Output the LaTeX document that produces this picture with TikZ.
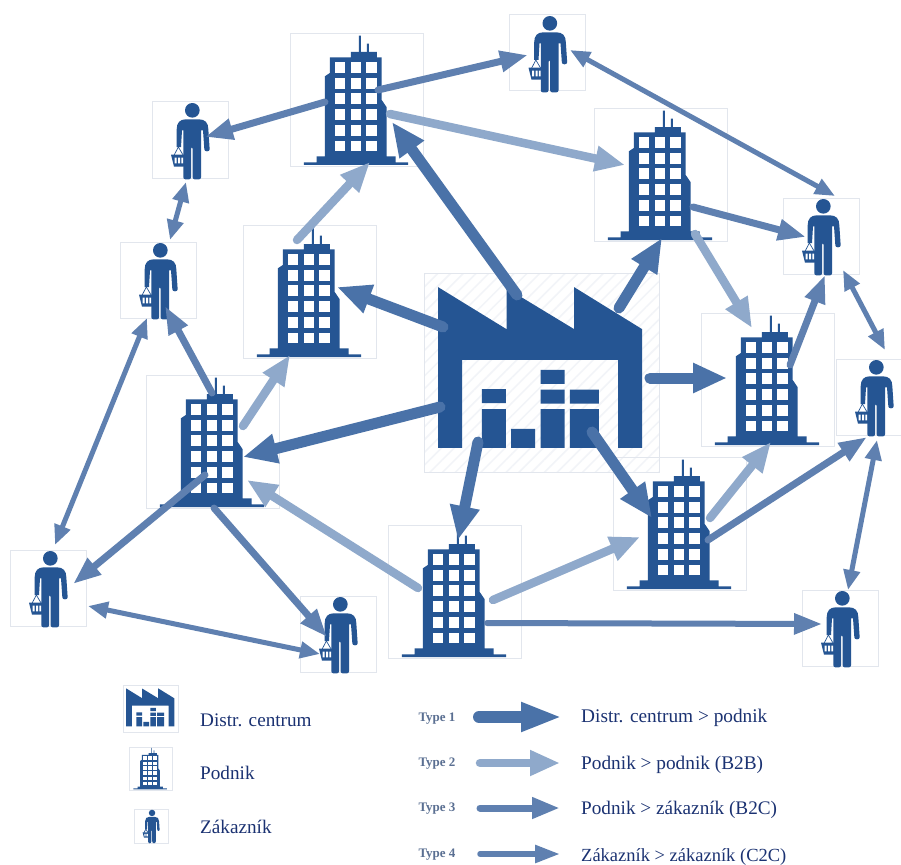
\documentclass[tikz,border=0pt]{standalone}
\usepackage{fontspec}
\setmainfont{Liberation Serif}
\usetikzlibrary{arrows.meta,calc,patterns.meta}
\definecolor{iconblue}{HTML}{255593}
\definecolor{boxline}{HTML}{E2E6ED}
\definecolor{hatchc}{HTML}{F2F4F8}
\definecolor{typeA}{HTML}{4A72A8}
\definecolor{typeB}{HTML}{8FA9CB}
\definecolor{typeC}{HTML}{5F80B0}
\definecolor{txtc}{HTML}{1B3272}
\definecolor{typetxt}{HTML}{5A6F92}
\tikzset{
  iconbox/.style={draw=boxline,line width=1pt,rectangle,inner sep=0pt,outer sep=0pt},
  bldgbox/.style={iconbox,minimum width=133pt,minimum height=133pt},
  persbox/.style={iconbox,minimum width=76pt,minimum height=76pt},
  t1/.style={draw=typeA,line width=11pt,line cap=round,-{Triangle[length=34pt,width=28pt]}},
  t2/.style={draw=typeB,line width=8.5pt,line cap=round,-{Triangle[length=30pt,width=24pt]}},
  t3/.style={draw=typeC,line width=7pt,line cap=round,-{Triangle[length=28pt,width=20pt]}},
  t4/.style={draw=typeC,line width=5pt,{Triangle[length=20pt,width=16pt]}-{Triangle[length=20pt,width=16pt]}},
  t4s/.style={draw=typeC,line width=5.5pt,line cap=round,-{Triangle[length=25pt,width=17pt]}},
  legtxt/.style={anchor=base west,text=txtc,font=\fontsize{19.2}{22}\selectfont,inner sep=0pt},
  typetxtst/.style={text=typetxt,font=\fontsize{13}{15}\selectfont\bfseries,inner sep=0pt},
  factory/.pic={
    \begin{scope}[scale=1/3,shift={(-395,-338)}]
      \fill[iconblue] (85,82)--(290,208)--(290,85)--(493,208)--(493,82)--(697,208)--(697,564)--(625,564)--(625,300)--(157,300)--(157,564)--(85,564)--cycle;
      \fill[iconblue] (216,388) rectangle (288,430) (216,448) rectangle (288,564)
        (304,507) rectangle (376,564) (392,330) rectangle (464,372)
        (392,389) rectangle (464,431) (392,448) rectangle (464,564)
        (480,389) rectangle (567,431) (480,448) rectangle (567,564);
    \end{scope}
  },
  bldg/.pic={
    \begin{scope}[scale=1/3,shift={(-231.5,-241)}]
      \fill[iconblue] (150,113)--(213,113)--(213,97)--(291,97)--(291,113)--(305,113)--(305,240)--(320,262)--(320,410)--(347,410)--(347,428)--(385,428)--(385,436)--(72,436)--(72,428)--(110,428)--(110,410)--(135,410)--(135,170)--(150,160)--cycle;
      \fill[iconblue] (237,48) rectangle (243,97) (261,72) rectangle (267,97);
      \foreach \wx in {165,212,259}
        \foreach \wy/\wh in {128/160,176/207,221/253,268/300,316/348,363/395}
          \fill[white] (\wx,\wy) rectangle (\wx+31,\wh);
    \end{scope}
  },
  pers/.pic={
    \begin{scope}[scale=1/3,shift={(-145,-144)}]
      \fill[iconblue] (152,55) circle (22);
      \fill[iconblue] (105,165)--(105,112) .. controls (105,92) and (115,82) .. (132,82)--(172,82) .. controls (190,82) and (200,92) .. (200,112)--(204,172) .. controls (204,180) and (188,180) .. (188,172)--(184,115)--(121,115)--(118,165)--cycle;
      \fill[iconblue,rounded corners=2pt] (125,100)--(178,100)--(178,262)--(153,262)--(153,165)--(148,165)--(148,262)--(125,262)--cycle;
      \draw[iconblue,line width=.7pt] (96,192)--(110,165)--(126,192);
      \fill[iconblue] (88,188)--(135,188)--(126,224)--(97,224)--cycle;
      \fill[white] (99,197) rectangle (105,214) (109,197) rectangle (115,214) (119,197) rectangle (124,214);
    \end{scope}
  },
}
\newcommand{\linkit}[5]{\draw[#1] ($(#2)+(#3)$) -- ($(#4)+(#5)$);}
\begin{document}
\begin{tikzpicture}[x=1pt,y=-1pt]
\useasboundingbox (0,0) rectangle (901,864);
\fill[white] (0,0) rectangle (901,864);
% boxes
\node[iconbox,minimum width=235pt,minimum height=199pt,pattern={Lines[angle=45,distance=9pt,line width=1.5pt]},pattern color=hatchc] (F) at (541.5,372.5) {};
\node[bldgbox] (B1) at (357,100) {};
\node[bldgbox] (B2) at (661,175) {};
\node[bldgbox] (B3) at (310,292) {};
\node[bldgbox] (B4) at (768,380) {};
\node[bldgbox] (B5) at (213,442) {};
\node[bldgbox] (B6) at (680,524) {};
\node[bldgbox] (B7) at (455,592) {};
\node[persbox] (P1) at (547.5,53) {};
\node[persbox] (P2) at (190,140) {};
\node[persbox] (P3) at (158,280) {};
\node[persbox] (P4) at (48,588) {};
\node[persbox] (P5) at (338,634) {};
\node[persbox] (P6) at (840,628) {};
\node[persbox] (P7) at (874,397) {};
\node[persbox] (P8) at (821,236) {};
% icons
\pic at (F) {factory};
\foreach \n in {B1,B2,B3,B4,B5,B6,B7} \pic at (\n) {bldg};
\foreach \n in {P1,P2,P3,P4,P5,P6,P7,P8} \pic at (\n) {pers};
% type 1
\linkit{t1}{F}{-24.5,-77.5}{B1}{35,22}
\linkit{t1}{F}{-98.5,-45.5}{B3}{27,-5}
\linkit{t1}{F}{77.5,-64.5}{B2}{1,63}
\linkit{t1}{F}{108.5,5.5}{B4}{-41,-2}
\linkit{t1}{F}{-101.5,34.5}{B5}{30,15}
\linkit{t1}{F}{-63.5,69.5}{B7}{3,-52}
\linkit{t1}{F}{50.5,59.5}{B6}{-28,-6}
% type 2
\linkit{t2}{B3}{-13,-52}{B1}{13,62}
\linkit{t2}{B1}{33,14}{B2}{-36,-10}
\linkit{t2}{B2}{34,59}{B4}{-16,-52}
\linkit{t2}{B5}{30,-16}{B3}{-20,63}
\linkit{t2}{B7}{38,8}{B6}{-40,13}
\linkit{t2}{B7}{-37,-4}{B5}{34,38}
\linkit{t2}{B6}{30,-6}{B4}{3,62}
% type 3
\linkit{t3}{B1}{21,-10}{P1}{-19.5,2}
\linkit{t3}{B1}{-32,2}{P2}{15,-3}
\linkit{t3}{B2}{32,32}{P8}{-15,1}
\linkit{t3}{B4}{22,-15}{P8}{4,39}
\linkit{t3}{B5}{-1,-49}{P3}{7,26}
\linkit{t3}{B5}{-8,33}{P4}{25,-4}
\linkit{t3}{B5}{1,66}{P5}{-11,3}
\linkit{t3}{B6}{28,16}{P7}{-7,40}
\linkit{t3,line width=6pt}{B7}{32,31}{P6}{-18,-4}
% type 4
\linkit{t4}{P1}{22.5,-3}{P8}{14,-40}
\linkit{t4}{P2}{-4,42}{P3}{12,-40}
\linkit{t4}{P3}{-11,38}{P4}{7,-43}
\linkit{t4}{P4}{40,18}{P5}{-18,20}
\linkit{t4}{P8}{22,34}{P7}{11,-47}
\linkit{t4}{P7}{3,43}{P6}{8,-38}
% legend icons
\node[iconbox,minimum width=55pt,minimum height=47pt] (LF) at (150.5,708.5) {};
\pic[scale=.236] at (LF) {factory};
\node[iconbox,minimum width=43pt,minimum height=43pt] (LB) at (150.5,768.5) {};
\pic[scale=.32] at (LB) {bldg};
\node[iconbox,minimum width=34pt,minimum height=34pt] (LP) at (151,826) {};
\pic[scale=.44] at (LP) {pers};
\node[legtxt] (L1) at (200,726) {Distr. centrum};
\node[legtxt] (L2) at (200,779) {Podnik};
\node[legtxt] (L3) at (200,833) {Zákazník};
% legend arrows
\node[typetxtst] (T1) at (437,719) {Type 1};
\node[typetxtst] (T2) at (437,764) {Type 2};
\node[typetxtst] (T3) at (437,809) {Type 3};
\node[typetxtst] (T4) at (437,855) {Type 4};
\node[legtxt,font=\fontsize{19.3}{22}\selectfont] (R1) at (581,722) {Distr. centrum > podnik};
\node[legtxt,font=\fontsize{19.3}{22}\selectfont] (R2) at (581,769) {Podnik > podnik (B2B)};
\node[legtxt] (R3) at (581,814.5) {Podnik > zákazník (B2C)};
\node[legtxt,font=\fontsize{18.5}{22}\selectfont] (R4) at (581,861) {Zákazník > zákazník (C2C)};
\coordinate (A1s) at (479,717); \coordinate (A1e) at (562,717);
\coordinate (A2s) at (480,763); \coordinate (A2e) at (560,763);
\coordinate (A3s) at (480,808); \coordinate (A3e) at (560,808);
\coordinate (A4s) at (480,854); \coordinate (A4e) at (560,854);
\draw[t1,line width=12pt,-{Triangle[length=41pt,width=27pt]}] (A1s) -- (A1e);
\draw[t2] (A2s) -- (A2e);
\draw[t3] (A3s) -- (A3e);
\draw[t4s] (A4s) -- (A4e);
\end{tikzpicture}
\end{document}
